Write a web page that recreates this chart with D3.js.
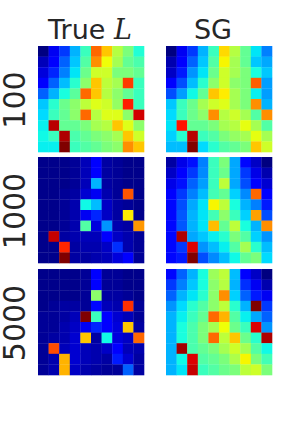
<!DOCTYPE html>
<html lang="en">
<head>
<meta charset="UTF-8">
<title>True L vs SG</title>
<script src="https://d3js.org/d3.v7.min.js"></script>
<style>
    body { margin: 0; padding: 0; background: #ffffff; overflow: hidden; }
    svg { display: block; }
    .col-title, .row-label { font-family: 'DejaVu Sans', sans-serif; fill: #262626; }
</style>
</head>
<body>
<svg id="chart" width="302" height="432"></svg>
<script>
// --- Data (normalised kernel values) ---
const columnTitles = ["True", "SG"];
const rowLabels = ["100", "1000", "5000"];

const trueL100 = [
    [0.00, 0.10, 0.18, 0.30, 0.42, 0.80, 0.70, 0.57, 0.50, 0.39],
    [0.05, 0.11, 0.22, 0.32, 0.45, 0.76, 0.64, 0.55, 0.47, 0.44],
    [0.08, 0.16, 0.25, 0.35, 0.48, 0.60, 0.60, 0.50, 0.50, 0.47],
    [0.11, 0.22, 0.31, 0.40, 0.52, 0.70, 0.58, 0.55, 0.85, 0.42],
    [0.22, 0.30, 0.38, 0.46, 0.80, 0.70, 0.57, 0.52, 0.47, 0.42],
    [0.32, 0.40, 0.48, 0.52, 0.58, 0.62, 0.60, 0.53, 0.88, 0.42],
    [0.34, 0.42, 0.47, 0.52, 0.80, 0.57, 0.62, 0.62, 0.52, 0.93],
    [0.36, 0.95, 0.47, 0.47, 0.50, 0.55, 0.57, 0.70, 0.62, 0.52],
    [0.37, 0.42, 0.96, 0.44, 0.47, 0.50, 0.52, 0.55, 0.70, 0.60],
    [0.36, 0.36, 1.00, 0.42, 0.45, 0.47, 0.50, 0.52, 0.76, 0.70]
];
const sg100 = [
    [0.00, 0.10, 0.18, 0.30, 0.42, 0.68, 0.57, 0.47, 0.35, 0.25],
    [0.04, 0.11, 0.22, 0.32, 0.45, 0.65, 0.55, 0.47, 0.32, 0.29],
    [0.06, 0.15, 0.27, 0.35, 0.48, 0.60, 0.55, 0.50, 0.38, 0.32],
    [0.11, 0.20, 0.31, 0.40, 0.52, 0.60, 0.52, 0.50, 0.81, 0.28],
    [0.20, 0.28, 0.37, 0.47, 0.70, 0.66, 0.55, 0.50, 0.36, 0.28],
    [0.32, 0.42, 0.48, 0.55, 0.60, 0.62, 0.55, 0.50, 0.76, 0.30],
    [0.34, 0.42, 0.48, 0.52, 0.76, 0.57, 0.60, 0.55, 0.45, 0.76],
    [0.35, 0.89, 0.47, 0.47, 0.50, 0.55, 0.57, 0.63, 0.55, 0.45],
    [0.33, 0.40, 0.95, 0.42, 0.45, 0.50, 0.53, 0.55, 0.63, 0.55],
    [0.31, 0.31, 1.00, 0.34, 0.40, 0.45, 0.47, 0.50, 0.70, 0.60]
];
const trueL1000 = [
    [0.01, 0.01, 0.01, 0.02, 0.05, 0.11, 0.03, 0.02, 0.01, 0.01],
    [0.01, 0.01, 0.01, 0.02, 0.05, 0.11, 0.03, 0.02, 0.01, 0.01],
    [0.01, 0.01, 0.01, 0.02, 0.05, 0.30, 0.03, 0.02, 0.01, 0.01],
    [0.01, 0.01, 0.02, 0.03, 0.07, 0.10, 0.04, 0.02, 0.82, 0.01],
    [0.01, 0.01, 0.02, 0.04, 0.37, 0.31, 0.06, 0.03, 0.02, 0.01],
    [0.01, 0.01, 0.02, 0.04, 0.10, 0.16, 0.06, 0.03, 0.66, 0.01],
    [0.01, 0.01, 0.02, 0.04, 0.45, 0.08, 0.27, 0.04, 0.03, 0.75],
    [0.01, 0.94, 0.03, 0.04, 0.05, 0.05, 0.12, 0.06, 0.04, 0.02],
    [0.01, 0.01, 0.87, 0.03, 0.04, 0.04, 0.06, 0.17, 0.04, 0.02],
    [0.01, 0.01, 1.00, 0.03, 0.03, 0.04, 0.05, 0.08, 0.12, 0.02]
];
const sg1000 = [
    [0.03, 0.09, 0.14, 0.25, 0.42, 0.50, 0.29, 0.13, 0.06, 0.00],
    [0.06, 0.11, 0.18, 0.26, 0.42, 0.48, 0.29, 0.18, 0.09, 0.04],
    [0.09, 0.14, 0.22, 0.28, 0.42, 0.58, 0.29, 0.20, 0.12, 0.07],
    [0.11, 0.18, 0.25, 0.31, 0.43, 0.47, 0.33, 0.26, 0.80, 0.11],
    [0.13, 0.20, 0.29, 0.35, 0.65, 0.58, 0.38, 0.30, 0.25, 0.15],
    [0.13, 0.21, 0.30, 0.35, 0.43, 0.52, 0.42, 0.33, 0.74, 0.20],
    [0.13, 0.21, 0.30, 0.35, 0.71, 0.47, 0.58, 0.38, 0.30, 0.76],
    [0.13, 0.96, 0.29, 0.32, 0.36, 0.40, 0.50, 0.45, 0.33, 0.27],
    [0.13, 0.18, 0.92, 0.27, 0.31, 0.36, 0.45, 0.55, 0.40, 0.31],
    [0.13, 0.15, 1.00, 0.20, 0.26, 0.31, 0.37, 0.47, 0.50, 0.34]
];
const trueL5000 = [
    [0.01, 0.01, 0.01, 0.01, 0.02, 0.11, 0.02, 0.02, 0.01, 0.01],
    [0.01, 0.01, 0.01, 0.01, 0.02, 0.11, 0.02, 0.02, 0.01, 0.01],
    [0.01, 0.01, 0.01, 0.01, 0.02, 0.52, 0.03, 0.03, 0.02, 0.01],
    [0.01, 0.02, 0.03, 0.03, 0.02, 0.13, 0.05, 0.04, 0.86, 0.02],
    [0.02, 0.02, 0.03, 0.05, 1.00, 0.42, 0.11, 0.07, 0.05, 0.02],
    [0.02, 0.02, 0.04, 0.06, 0.10, 0.16, 0.11, 0.08, 0.70, 0.03],
    [0.02, 0.03, 0.04, 0.07, 0.70, 0.03, 0.37, 0.08, 0.06, 0.80],
    [0.02, 0.83, 0.05, 0.07, 0.05, 0.04, 0.06, 0.11, 0.05, 0.04],
    [0.02, 0.04, 0.72, 0.07, 0.05, 0.04, 0.03, 0.15, 0.07, 0.03],
    [0.02, 0.04, 0.72, 0.06, 0.04, 0.03, 0.02, 0.02, 0.22, 0.03]
];
const sg5000 = [
    [0.13, 0.22, 0.30, 0.38, 0.54, 0.58, 0.31, 0.12, 0.06, 0.00],
    [0.18, 0.25, 0.32, 0.38, 0.52, 0.57, 0.30, 0.17, 0.10, 0.04],
    [0.22, 0.30, 0.35, 0.40, 0.52, 0.76, 0.33, 0.22, 0.15, 0.10],
    [0.27, 0.34, 0.40, 0.45, 0.52, 0.58, 0.40, 0.30, 1.00, 0.18],
    [0.30, 0.36, 0.42, 0.47, 0.80, 0.72, 0.45, 0.36, 0.29, 0.22],
    [0.30, 0.38, 0.44, 0.50, 0.55, 0.64, 0.48, 0.42, 0.92, 0.27],
    [0.30, 0.38, 0.44, 0.50, 0.80, 0.58, 0.70, 0.48, 0.40, 0.96],
    [0.30, 0.97, 0.44, 0.47, 0.50, 0.55, 0.60, 0.55, 0.45, 0.37],
    [0.30, 0.37, 0.92, 0.45, 0.47, 0.50, 0.56, 0.65, 0.50, 0.43],
    [0.30, 0.35, 0.94, 0.42, 0.45, 0.48, 0.50, 0.58, 0.60, 0.50]
];

// panels[row][col]
const panels = [
    [trueL100, sg100],
    [trueL1000, sg1000],
    [trueL5000, sg5000]
];

// --- Layout ---
const svg = d3.select("#chart");
const panelSize = 106;
const colX = [38, 166];
const rowY = [46, 157, 269];

// matplotlib "jet" colormap built from linear pieces
const jetR = d3.scaleLinear().domain([0, 0.35, 0.66, 0.89, 1]).range([0, 0, 1, 1, 0.5]).clamp(true);
const jetG = d3.scaleLinear().domain([0, 0.125, 0.375, 0.64, 0.91, 1]).range([0, 0, 1, 1, 0, 0]).clamp(true);
const jetB = d3.scaleLinear().domain([0, 0.11, 0.34, 0.65, 1]).range([0.5, 1, 1, 0, 0]).clamp(true);
const jet = v => d3.rgb(jetR(v) * 255, jetG(v) * 255, jetB(v) * 255).toString();

const idx = d3.range(10);
const xBand = d3.scaleBand().domain(idx).range([0, panelSize]);
const yBand = d3.scaleBand().domain(idx).range([0, panelSize]);

panels.forEach((row, ri) => {
    row.forEach((matrix, ci) => {
        const g = svg.append("g")
            .attr("transform", `translate(${colX[ci]},${rowY[ri]})`);
        const cells = matrix.flatMap((r, i) => r.map((v, j) => ({ i, j, v })));
        g.selectAll("rect")
            .data(cells)
            .enter().append("rect")
            .attr("x", d => xBand(d.j))
            .attr("y", d => yBand(d.i))
            .attr("width", xBand.bandwidth() + 0.3)
            .attr("height", yBand.bandwidth() + 0.3)
            .attr("fill", d => jet(d.v));
    });
});

// column titles
const t1 = svg.append("text")
    .attr("class", "col-title")
    .attr("x", 48)
    .attr("y", 39)
    .style("font-size", "27px");
t1.append("tspan").text(columnTitles[0] + " ");
t1.append("tspan")
    .style("font-family", "'DejaVu Serif', serif")
    .style("font-style", "italic")
    .text("L");

svg.append("text")
    .attr("class", "col-title")
    .attr("x", 213)
    .attr("y", 39)
    .attr("text-anchor", "middle")
    .style("font-size", "27px")
    .text(columnTitles[1]);

// row labels (rotated)
rowLabels.forEach((lab, ri) => {
    const cy = rowY[ri] + panelSize / 2 + 1;
    svg.append("text")
        .attr("class", "row-label")
        .attr("transform", `translate(25,${cy}) rotate(-90)`)
        .attr("text-anchor", "middle")
        .style("font-size", "30px")
        .text(lab);
});
</script>
</body>
</html>
